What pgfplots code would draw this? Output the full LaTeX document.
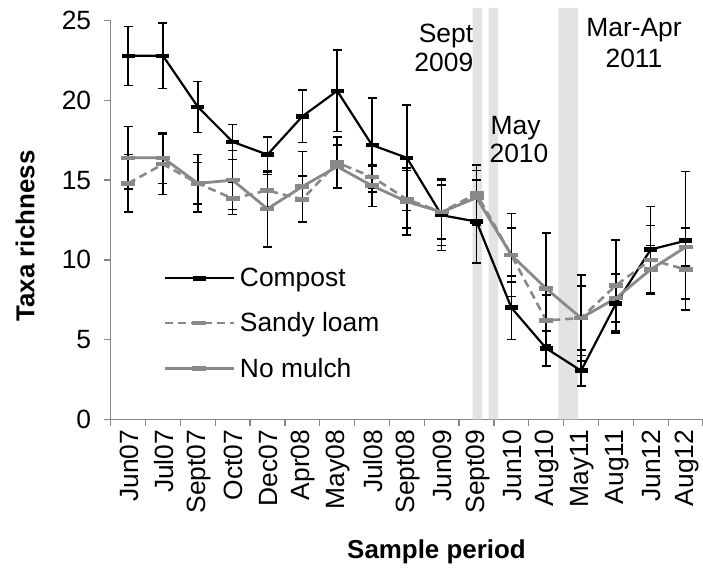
\documentclass[border=0pt]{standalone}
\usepackage{fontspec}
\setmainfont{Liberation Sans}
\usepackage{pgfplots}
\usepackage{pgfplotstable}
\pgfplotsset{compat=1.18}
\definecolor{ser}{RGB}{137,137,137}
\definecolor{band}{RGB}{227,227,227}
\definecolor{axgray}{RGB}{134,134,134}

\pgfplotstableread{
x y e
0 22.8 1.85
1 22.8 2.05
2 19.6 1.6
3 17.4 1.1
4 16.6 1.1
5 19.0 1.65
6 20.6 2.55
7 17.2 2.95
8 16.4 3.3
9 12.8 2.2
10 12.4 2.6
11 7.0 2.0
12 4.45 1.1
13 3.05 0.95
14 7.25 1.85
15 10.65 2.7
16 11.2 4.35
}\compost

\pgfplotstableread{
x y e
0 14.8 1.8
1 16.0 1.9
2 14.8 1.8
3 13.85 1.0
4 14.35 1.0
5 13.8 1.45
6 16.1 1.6
7 15.2 0.7
8 13.8 1.8
9 13.0 1.7
10 14.15 1.8
11 10.3 1.7
12 6.2 1.6
13 6.35 2.0
14 8.4 2.85
15 10.0 2.15
16 9.4 1.85
}\sandy

\pgfplotstableread{
x y e
0 16.4 1.95
1 16.4 1.6
2 14.8 1.3
3 15.0 1.85
4 13.2 2.4
5 14.6 2.2
6 15.85 1.35
7 14.65 1.3
8 13.65 2.1
9 13.0 2.1
10 13.9 1.7
11 10.3 2.6
12 8.2 3.5
13 6.35 2.7
14 7.6 1.5
15 9.4 1.5
16 10.8 1.2
}\nomulch

\begin{document}
\begin{tikzpicture}
\begin{axis}[
  scale only axis, width=592.3bp, height=398.6bp,
  xmin=-0.5, xmax=16.5, ymin=0, ymax=25,
  clip=false,
  axis lines*=left,
  axis line style={axgray, line width=1.3bp},
  xtick={0,...,16},
  xticklabels={Jun07,Jul07,Sept07,Oct07,Dec07,Apr08,May08,Jul08,Sept08,Jun09,Sept09,Jun10,Aug10,May11,Aug11,Jun12,Aug12},
  major x tick style={draw=none},
  minor xtick={-0.5,0.5,...,16.5},
  ytick={0,5,...,25},
  tick align=outside,
  tick style={axgray, line width=1.3bp},
  major tick length=7bp, minor tick length=7bp,
  tick label style={font=\fontsize{26.5}{30}\selectfont},
  /pgf/number format/assume math mode=true,
  xticklabel style={rotate=90, anchor=east, yshift=-1bp},
  yticklabel style={xshift=-9bp},
  xlabel={Sample period},
  xlabel style={font=\bfseries\fontsize{26}{30}\selectfont, at={(rel axis cs:0.55,-0.333)}, anchor=center},
  ylabel={Taxa richness},
  ylabel style={font=\bfseries\fontsize{26}{30}\selectfont, at={(rel axis cs:-0.1447,0.46)}, anchor=center},
  legend style={at={(axis cs:1.0,9.6)}, anchor=north west, draw=none, fill=none,
    font=\fontsize{26.5}{30}\selectfont, row sep=20.5bp, inner sep=0pt,
    nodes={inner xsep=5bp}},
  legend cell align=left,
  legend image code/.code={\draw[mark repeat=2, mark phase=2, #1] plot coordinates {(0bp,0bp) (34.5bp,0bp) (69bp,0bp)};},
  error bars/y dir=both, error bars/y explicit,
  error bars/error bar style={black, line width=1.5bp, solid},
  error bars/error mark options={black, line width=1.5bp, mark size=4.5bp, solid, rotate=90},
]
\coordinate (O) at (rel axis cs:0,0);
% shaded event bands
\addplot[fill=band, draw=none, forget plot, error bars/y dir=none] coordinates {(9.89,0) (9.89,25.8) (10.16,25.8) (10.16,0)} \closedcycle;
\addplot[fill=band, draw=none, forget plot, error bars/y dir=none] coordinates {(10.35,0) (10.35,25.8) (10.62,25.8) (10.62,0)} \closedcycle;
\addplot[fill=band, draw=none, forget plot, error bars/y dir=none] coordinates {(12.35,0) (12.35,25.8) (12.91,25.8) (12.91,0)} \closedcycle;

\addplot[black, line width=2.2bp, mark=-, mark size=6.5bp, mark options={line width=4.5bp, solid}]
  table[x=x, y=y, y error=e] {\compost};
\addlegendentry{Compost}
\addplot[ser, line width=2.6bp, dash pattern=on 8bp off 5bp, mark=-, mark size=7bp, mark options={line width=4.5bp, solid}]
  table[x=x, y=y, y error=e] {\sandy};
\addlegendentry{Sandy loam}
\addplot[ser, line width=2.8bp, mark=-, mark size=7bp, mark options={line width=4.5bp, solid}]
  table[x=x, y=y, y error=e] {\nomulch};
\addlegendentry{No mulch}

\node[anchor=base east, font=\fontsize{26.5}{30}\selectfont, inner sep=0pt] at (axis cs:9.91,23.63) {Sept};
\node[anchor=base east, font=\fontsize{26.5}{30}\selectfont, inner sep=0pt] at (axis cs:9.91,21.81) {2009};
\node[anchor=base west, font=\fontsize{26.5}{30}\selectfont, inner sep=0pt] at (axis cs:10.40,17.87) {May};
\node[anchor=base west, font=\fontsize{26.5}{30}\selectfont, inner sep=0pt] at (axis cs:10.37,16.12) {2010};
\node[anchor=base, font=\fontsize{26.5}{30}\selectfont, inner sep=0pt] at (axis cs:14.52,24.02) {Mar-Apr};
\node[anchor=base, font=\fontsize{26.5}{30}\selectfont, inner sep=0pt] at (axis cs:14.52,22.08) {2011};
\end{axis}
\pgfresetboundingbox
\path[use as bounding box] ([shift={(-110.7bp,-151.7bp)}]O) rectangle ([shift={(592.3bp,419.3bp)}]O);
\end{tikzpicture}
\end{document}
